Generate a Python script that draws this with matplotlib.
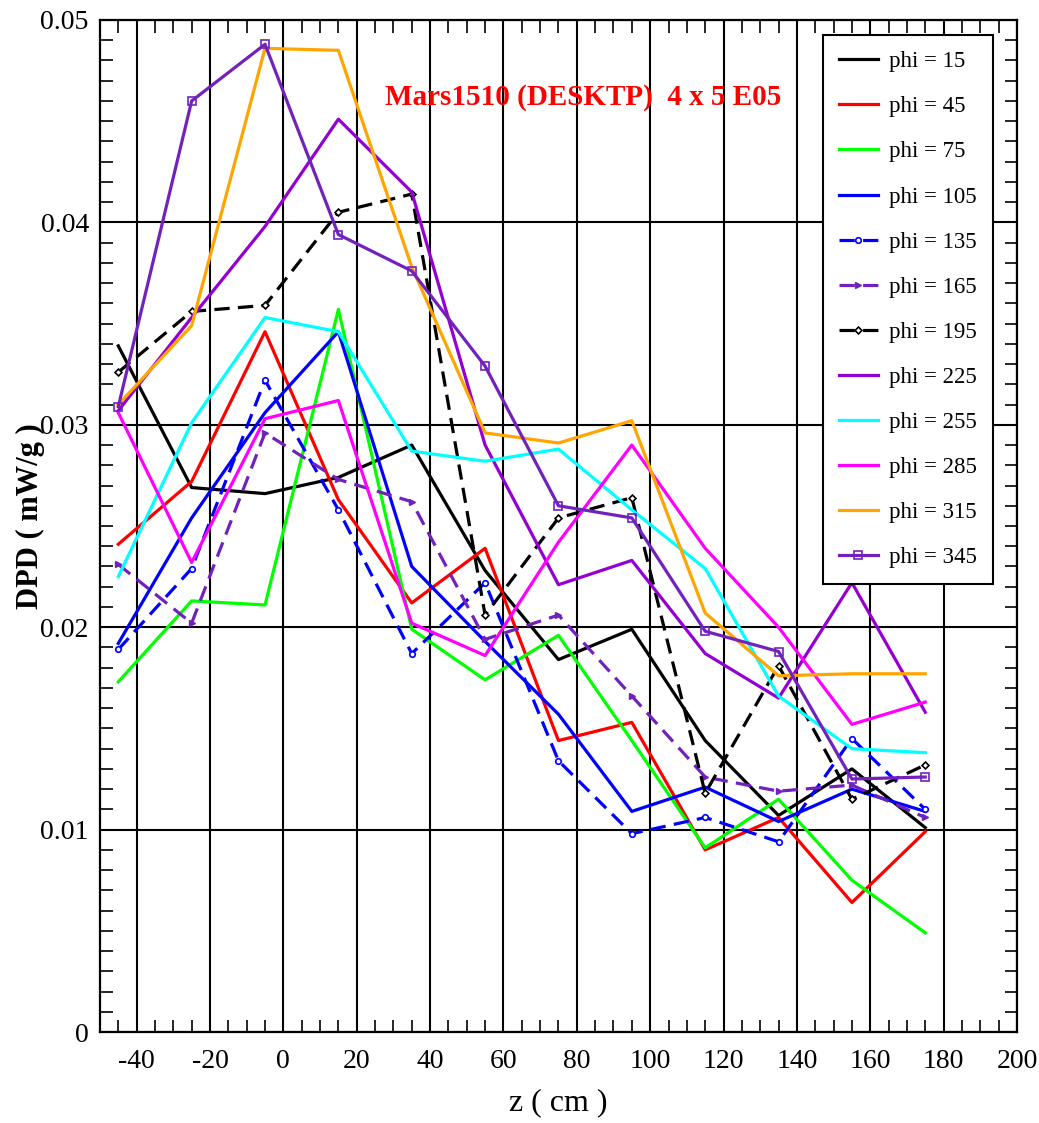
import matplotlib

matplotlib.use("Agg")
import matplotlib.pyplot as plt
from matplotlib.ticker import MultipleLocator

plt.rcParams.update(
    {
        "font.family": "Liberation Serif",
        "mathtext.fontset": "stix",
        "lines.scale_dashes": False,
    }
)

# ---------------------------------------------------------------------------
# Data
# ---------------------------------------------------------------------------
z = [-45, -25, -5, 15, 35, 55, 75, 95, 115, 135, 155, 175]

phi_15 = [0.0339, 0.0269, 0.0266, 0.0274, 0.0290, 0.0228, 0.0184, 0.0199, 0.0144, 0.0107, 0.0130, 0.0101]
phi_45 = [0.0241, 0.0272, 0.0346, 0.0263, 0.0212, 0.0239, 0.0144, 0.0153, 0.0090, 0.0106, 0.0064, 0.0099]
phi_75 = [0.0173, 0.0213, 0.0211, 0.0357, 0.0199, 0.0174, 0.0196, 0.0144, 0.0091, 0.0115, 0.0075, 0.0049]
phi_105 = [0.0192, 0.0254, 0.0306, 0.0346, 0.0230, 0.0193, 0.0157, 0.0109, 0.0121, 0.0104, 0.0120, 0.0109]
phi_135 = [0.0189, 0.0229, 0.0322, 0.0258, 0.0187, 0.0222, 0.0134, 0.0098, 0.0106, 0.0094, 0.0145, 0.0110]
phi_165 = [0.0231, 0.0202, 0.0296, 0.0273, 0.0262, 0.0194, 0.0206, 0.0166, 0.0126, 0.0119, 0.0122, 0.0106]
phi_195 = [0.0326, 0.0356, 0.0359, 0.0405, 0.0414, 0.0206, 0.0254, 0.0264, 0.0118, 0.0181, 0.0115, 0.0132]
phi_225 = [0.0307, 0.0353, 0.0398, 0.0451, 0.0415, 0.0290, 0.0221, 0.0233, 0.0187, 0.0165, 0.0222, 0.0158]
phi_255 = [0.0225, 0.0301, 0.0353, 0.0346, 0.0287, 0.0282, 0.0288, 0.0258, 0.0229, 0.0166, 0.0140, 0.0138]
phi_285 = [0.0306, 0.0232, 0.0303, 0.0312, 0.0202, 0.0186, 0.0242, 0.0290, 0.0239, 0.0200, 0.0152, 0.0163]
phi_315 = [0.0310, 0.0349, 0.0486, 0.0485, 0.0378, 0.0296, 0.0291, 0.0302, 0.0207, 0.0176, 0.0177, 0.0177]
phi_345 = [0.0309, 0.0460, 0.0488, 0.0394, 0.0376, 0.0329, 0.0260, 0.0254, 0.0198, 0.0188, 0.0125, 0.0126]

labels = ["phi = 15", "phi = 45", "phi = 75", "phi = 105", "phi = 135", "phi = 165",
          "phi = 195", "phi = 225", "phi = 255", "phi = 285", "phi = 315", "phi = 345"]
series = [phi_15, phi_45, phi_75, phi_105, phi_135, phi_165,
          phi_195, phi_225, phi_255, phi_285, phi_315, phi_345]

# ---------------------------------------------------------------------------
# Styles
# ---------------------------------------------------------------------------
VIOLET = "#9400D3"
INDIGO = "#7221BC"
styles = [
    dict(color="black"),
    dict(color="#FF0000"),
    dict(color="#00FF00"),
    dict(color="#0000FF"),
    dict(color="#0000FF", dashes=(11, 6), marker="o", ms=4, mfc="white", mew=1.2),
    dict(color=INDIGO, dashes=(11, 6), marker=">", ms=4, mew=1.0),
    dict(color="black", dashes=(11, 6), marker="D", ms=3.5, mfc="white", mew=1.2),
    dict(color=VIOLET),
    dict(color="#00FFFF"),
    dict(color="#FF00FF"),
    dict(color="#FFA500"),
    dict(color=INDIGO, marker="s", ms=6, mfc="none", mew=1.2),
]

fig = plt.figure(figsize=(10.39, 11.23), dpi=100)
ax = fig.add_axes([0.0962, 0.081, 0.8826, 0.9012])

for y, lab, st in zip(series, labels, styles):
    ax.plot(z, y, lw=2.3, label=lab, **st)

ax.set_xlim(-50, 200)
ax.set_ylim(0, 0.05)
ax.xaxis.set_minor_locator(MultipleLocator(5))
ax.yaxis.set_minor_locator(MultipleLocator(0.001))
ax.set_xticks(range(-40, 201, 20))
ax.set_xticklabels([str(v) for v in range(-40, 201, 20)])
ax.set_yticks([0, 0.01, 0.02, 0.03, 0.04, 0.05])
ax.set_yticklabels(["0", "0.01", "0.02", "0.03", "0.04", "0.05"])

ax.grid(True, which="major", color="black", lw=1.5)
ax.tick_params(which="both", direction="in", top=True, right=True, width=1.2)
ax.tick_params(which="major", length=12, labelsize=20)
ax.tick_params(axis="x", which="major", pad=12)
ax.tick_params(axis="y", which="major", pad=8)
ax.tick_params(which="minor", length=9)
for sp in ax.spines.values():
    sp.set_linewidth(1.6)

ax.set_xlabel("z ( cm )", fontsize=23)
ax.xaxis.set_label_coords(0.5, -0.056)
ax.set_ylabel("DPD ( mW/g )", fontsize=22, fontweight="bold")
ax.yaxis.set_label_coords(-0.06, 0.51)

ax.text(0.527, 0.923, "Mars1510 (DESKTP)  4 x 5 E05", transform=ax.transAxes,
        ha="center", va="center", color="red", fontsize=21, fontweight="bold")

leg = ax.legend(loc="upper right", bbox_to_anchor=(0.974, 0.985), fontsize=16.5,
                handlelength=1.7, labelspacing=1.05, borderpad=0.7, fancybox=False,
                framealpha=1, edgecolor="black", handletextpad=0.5,
                borderaxespad=0.0)
leg.get_frame().set_linewidth(1.5)

fig.savefig("out.png", dpi=100)
